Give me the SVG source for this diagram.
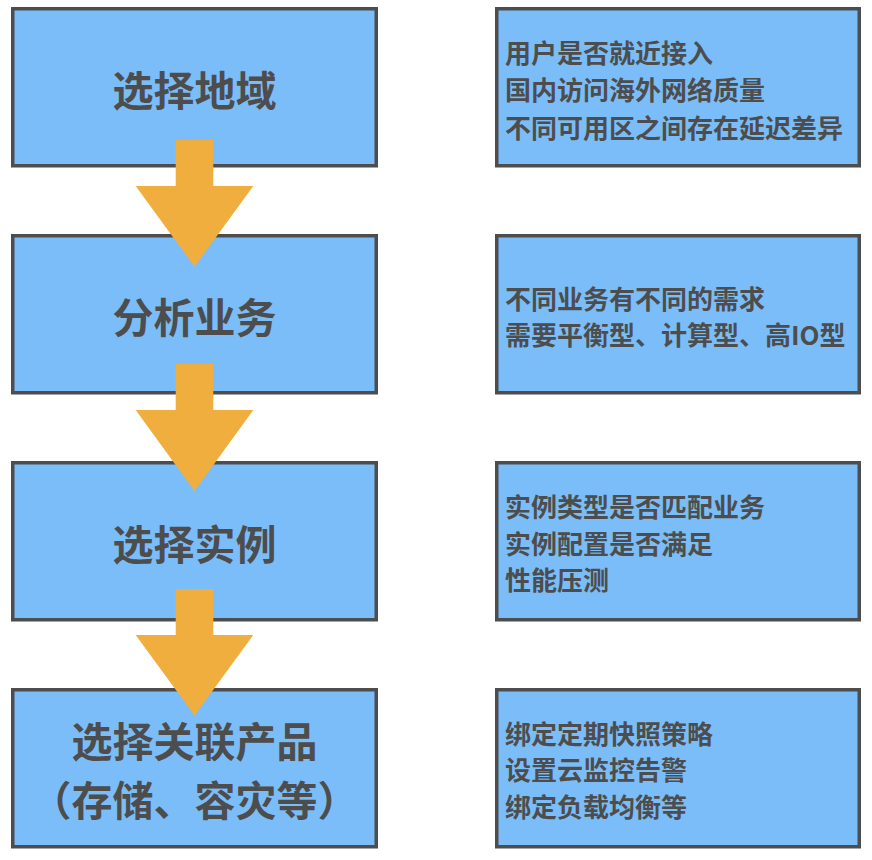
<svg xmlns="http://www.w3.org/2000/svg" width="872" height="860" viewBox="0 0 872 860">
<style>
.box{fill:#7bbdf8;stroke:#4d4d4d;stroke-width:3.5}
.t{font-family:"Noto Sans CJK SC","Noto Sans",sans-serif;font-weight:bold;fill:#4d4d4d;dominant-baseline:central}
.big{font-size:41px;text-anchor:middle}
.sm{font-size:26px}
.arr{fill:#f0ae3e}
</style>
<rect width="872" height="860" fill="#ffffff"/>
<g id="n1"><rect class="box" x="12.75" y="8.75" width="363.5" height="157"/><text class="t big" x="194.5" y="88">选择地域</text></g>
<g id="n2"><rect class="box" x="12.75" y="235.75" width="363.5" height="157"/><text class="t big" x="194.5" y="315">分析业务</text></g>
<g id="n3"><rect class="box" x="12.75" y="462.75" width="363.5" height="157"/><text class="t big" x="194.5" y="542">选择实例</text></g>
<g id="n4"><rect class="box" x="12.75" y="689.75" width="363.5" height="157"/><text class="t big" x="194.5" y="739">选择关联产品</text><text class="t big" x="194.5" y="798">（存储、容灾等）</text></g>
<g id="d1"><rect class="box" x="496.75" y="8.75" width="362.5" height="157"/><text class="t sm" x="505" y="51">用户是否就近接入</text><text class="t sm" x="505" y="88.5">国内访问海外网络质量</text><text class="t sm" x="505" y="126">不同可用区之间存在延迟差异</text></g>
<g id="d2"><rect class="box" x="496.75" y="235.75" width="362.5" height="157"/><text class="t sm" x="505" y="297">不同业务有不同的需求</text><text class="t sm" x="505" y="333">需要平衡型、计算型、高IO型</text></g>
<g id="d3"><rect class="box" x="496.75" y="462.75" width="362.5" height="157"/><text class="t sm" x="505" y="505">实例类型是否匹配业务</text><text class="t sm" x="505" y="542">实例配置是否满足</text><text class="t sm" x="505" y="578">性能压测</text></g>
<g id="d4"><rect class="box" x="496.75" y="689.75" width="362.5" height="157"/><text class="t sm" x="505" y="732">绑定定期快照策略</text><text class="t sm" x="505" y="768.5">设置云监控告警</text><text class="t sm" x="505" y="805">绑定负载均衡等</text></g>
<g id="connectors">
<polygon class="arr" points="175.7,140 213.3,140 213.3,186 253.3,186 194.5,266.7 135.7,186 175.7,186"/>
<polygon class="arr" points="175.7,364 213.3,364 213.3,410 253.3,410 194.5,491 135.7,410 175.7,410"/>
<polygon class="arr" points="175.7,589 213.3,589 213.3,635 253.3,635 194.5,715.5 135.7,635 175.7,635"/>
</g>
</svg>
